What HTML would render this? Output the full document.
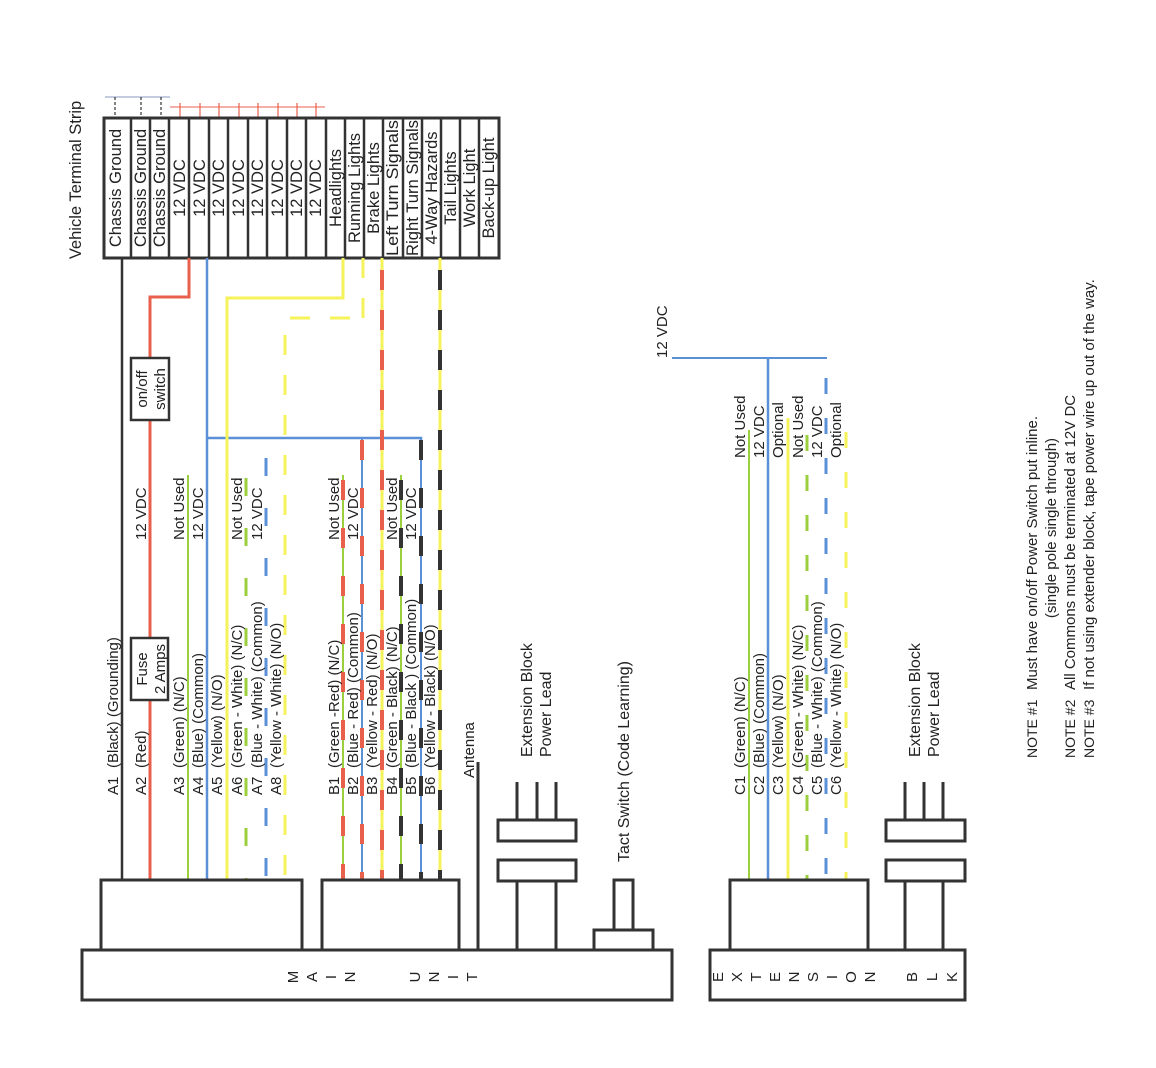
<!DOCTYPE html>
<html><head><meta charset="utf-8"><style>
html,body{margin:0;padding:0;background:#fff;}
svg{display:block;}
text{font-family:"Liberation Sans",Arial,sans-serif;fill:#222;}
</style></head><body>
<svg width="1156" height="1068" viewBox="0 0 1156 1068" xmlns="http://www.w3.org/2000/svg">
<text transform="translate(81,180) rotate(-90)" text-anchor="middle" font-size="16.5">Vehicle Terminal Strip</text>

<line x1="105" y1="97" x2="170" y2="97" stroke="#8a9ac0" stroke-width="1"/>
<g stroke="#333" stroke-width="1.2" stroke-dasharray="3,2">
<line x1="115" y1="97" x2="115" y2="117"/><line x1="141" y1="97" x2="141" y2="117"/><line x1="161" y1="97" x2="161" y2="117"/>
</g>
<line x1="170" y1="107" x2="325" y2="107" stroke="#e8604c" stroke-width="1"/>
<g stroke="#e8604c" stroke-width="1.2">
<line x1="180" y1="103" x2="180" y2="117"/><line x1="200" y1="103" x2="200" y2="117"/><line x1="219" y1="103" x2="219" y2="117"/><line x1="239" y1="103" x2="239" y2="117"/><line x1="258" y1="103" x2="258" y2="117"/><line x1="278" y1="103" x2="278" y2="117"/><line x1="297" y1="103" x2="297" y2="117"/><line x1="316" y1="103" x2="316" y2="117"/>
</g>

<rect x="104" y="118" width="395" height="140" fill="#fff" stroke="#333" stroke-width="3"/>
<g stroke="#333" stroke-width="2.5">
<line x1="131" y1="118" x2="131" y2="258"/><line x1="150" y1="118" x2="150" y2="258"/><line x1="169" y1="118" x2="169" y2="258"/><line x1="189" y1="118" x2="189" y2="258"/><line x1="209" y1="118" x2="209" y2="258"/><line x1="228" y1="118" x2="228" y2="258"/><line x1="248" y1="118" x2="248" y2="258"/><line x1="267" y1="118" x2="267" y2="258"/><line x1="287" y1="118" x2="287" y2="258"/><line x1="306" y1="118" x2="306" y2="258"/><line x1="326" y1="118" x2="326" y2="258"/><line x1="345" y1="118" x2="345" y2="258"/><line x1="364" y1="118" x2="364" y2="258"/><line x1="383" y1="118" x2="383" y2="258"/><line x1="403" y1="118" x2="403" y2="258"/><line x1="422" y1="118" x2="422" y2="258"/><line x1="441" y1="118" x2="441" y2="258"/><line x1="460" y1="118" x2="460" y2="258"/><line x1="479" y1="118" x2="479" y2="258"/>
</g>
<g font-size="16.5" text-anchor="middle">
<text transform="translate(121,188) rotate(-90)">Chassis Ground</text>
<text transform="translate(146,188) rotate(-90)">Chassis Ground</text>
<text transform="translate(165,188) rotate(-90)">Chassis Ground</text>
<text transform="translate(185,188) rotate(-90)">12 VDC</text>
<text transform="translate(205,188) rotate(-90)">12 VDC</text>
<text transform="translate(224,188) rotate(-90)">12 VDC</text>
<text transform="translate(244,188) rotate(-90)">12 VDC</text>
<text transform="translate(263,188) rotate(-90)">12 VDC</text>
<text transform="translate(283,188) rotate(-90)">12 VDC</text>
<text transform="translate(302,188) rotate(-90)">12 VDC</text>
<text transform="translate(321,188) rotate(-90)">12 VDC</text>
<text transform="translate(341,188) rotate(-90)">Headlights</text>
<text transform="translate(360,188) rotate(-90)">Running Lights</text>
<text transform="translate(379,188) rotate(-90)">Brake Lights</text>
<text transform="translate(398,188) rotate(-90)" textLength="136" lengthAdjust="spacingAndGlyphs">Left Turn Signals</text>
<text transform="translate(418,188) rotate(-90)" textLength="136" lengthAdjust="spacingAndGlyphs">Right Turn Signals</text>
<text transform="translate(437,188) rotate(-90)">4-Way Hazards</text>
<text transform="translate(456,188) rotate(-90)">Tail Lights</text>
<text transform="translate(475,188) rotate(-90)">Work Light</text>
<text transform="translate(494,188) rotate(-90)">Back-up Light</text>
</g>

<line x1="122" y1="258" x2="122" y2="880" stroke="#333" stroke-width="2.5"/>
<polyline points="189,258 189,297 150,297 150,880" fill="none" stroke="#e8604c" stroke-width="3"/>
<line x1="207" y1="258" x2="207" y2="880" stroke="#5b8fd6" stroke-width="2.5"/>
<polyline points="207,438 421,438 421,450" fill="none" stroke="#5b8fd6" stroke-width="2.5"/>
<polyline points="343,258 343,298 227,298 227,880" fill="none" stroke="#f5f25a" stroke-width="3"/>
<g stroke="#f5f25a" stroke-width="3" stroke-dasharray="20,20" fill="none">
<line x1="363" y1="258" x2="363" y2="318"/>
<line x1="350" y1="318" x2="285" y2="318"/>
<line x1="285" y1="335" x2="285" y2="880"/>
</g>
<line x1="188" y1="475" x2="188" y2="880" stroke="#9ccf3c" stroke-width="2"/>
<line x1="246" y1="478" x2="246" y2="880" stroke="#9ccf3c" stroke-width="3" stroke-dasharray="18,32"/>
<line x1="266" y1="458" x2="266" y2="880" stroke="#5b8fd6" stroke-width="3" stroke-dasharray="18,32"/>

<line x1="343" y1="475" x2="343" y2="880" stroke="#9ccf3c" stroke-width="2"/>
<line x1="343" y1="480" x2="343" y2="880" stroke="#e8604c" stroke-width="4" stroke-dasharray="20,28"/>
<line x1="362" y1="438" x2="362" y2="880" stroke="#5b8fd6" stroke-width="2"/>
<line x1="362" y1="440" x2="362" y2="880" stroke="#e8604c" stroke-width="4" stroke-dasharray="20,28"/>
<line x1="382" y1="258" x2="382" y2="880" stroke="#f5f25a" stroke-width="3"/>
<line x1="382" y1="270" x2="382" y2="880" stroke="#e8604c" stroke-width="4" stroke-dasharray="20,20"/>
<line x1="401" y1="475" x2="401" y2="880" stroke="#9ccf3c" stroke-width="2"/>
<line x1="401" y1="480" x2="401" y2="880" stroke="#333" stroke-width="4" stroke-dasharray="20,28"/>
<line x1="421" y1="438" x2="421" y2="880" stroke="#5b8fd6" stroke-width="2"/>
<line x1="421" y1="440" x2="421" y2="880" stroke="#333" stroke-width="4" stroke-dasharray="20,28"/>
<line x1="440" y1="258" x2="440" y2="880" stroke="#f5f25a" stroke-width="3"/>
<line x1="440" y1="270" x2="440" y2="880" stroke="#333" stroke-width="4" stroke-dasharray="20,20"/>

<rect x="131" y="358" width="38" height="62" fill="#fff" stroke="#333" stroke-width="2.5"/>
<text transform="translate(147,389) rotate(-90)" text-anchor="middle" font-size="15">on/off</text>
<text transform="translate(165,389) rotate(-90)" text-anchor="middle" font-size="15">switch</text>
<rect x="131" y="638" width="37" height="62" fill="#fff" stroke="#333" stroke-width="2.5"/>
<text transform="translate(147,669) rotate(-90)" text-anchor="middle" font-size="15">Fuse</text>
<text transform="translate(165,669) rotate(-90)" text-anchor="middle" font-size="15">2 Amps</text>

<g font-size="15">
<text transform="translate(146,540) rotate(-90)">12 VDC</text>
<text transform="translate(184,540) rotate(-90)">Not Used</text>
<text transform="translate(203,540) rotate(-90)">12 VDC</text>
<text transform="translate(242,540) rotate(-90)">Not Used</text>
<text transform="translate(262,540) rotate(-90)">12 VDC</text>
<text transform="translate(118,795) rotate(-90)">A1</text><text transform="translate(118,768) rotate(-90)">(Black) (Grounding)</text>
<text transform="translate(146,795) rotate(-90)">A2</text><text transform="translate(146,768) rotate(-90)">(Red)</text>
<text transform="translate(184,795) rotate(-90)">A3</text><text transform="translate(184,768) rotate(-90)">(Green) (N/C)</text>
<text transform="translate(203,795) rotate(-90)">A4</text><text transform="translate(203,768) rotate(-90)">(Blue) (Common)</text>
<text transform="translate(222,795) rotate(-90)">A5</text><text transform="translate(222,768) rotate(-90)">(Yellow) (N/O)</text>
<text transform="translate(242,795) rotate(-90)">A6</text><text transform="translate(242,768) rotate(-90)">(Green - White) (N/C)</text>
<text transform="translate(262,795) rotate(-90)">A7</text><text transform="translate(262,768) rotate(-90)">(Blue - White) (Common)</text>
<text transform="translate(281,795) rotate(-90)">A8</text><text transform="translate(281,768) rotate(-90)">(Yellow - White) (N/O)</text>
<text transform="translate(339,540) rotate(-90)">Not Used</text>
<text transform="translate(358,540) rotate(-90)">12 VDC</text>
<text transform="translate(397,540) rotate(-90)">Not Used</text>
<text transform="translate(416,540) rotate(-90)">12 VDC</text>
<text transform="translate(339,795) rotate(-90)">B1</text><text transform="translate(339,768) rotate(-90)">(Green -Red) (N/C)</text>
<text transform="translate(358,795) rotate(-90)">B2</text><text transform="translate(358,768) rotate(-90)">(Blue - Red) (Common)</text>
<text transform="translate(377,795) rotate(-90)">B3</text><text transform="translate(377,768) rotate(-90)">(Yellow - Red) (N/O)</text>
<text transform="translate(397,795) rotate(-90)">B4</text><text transform="translate(397,768) rotate(-90)">(Green - Black) (N/C)</text>
<text transform="translate(416,795) rotate(-90)">B5</text><text transform="translate(416,768) rotate(-90)">(Blue - Black ) (Common)</text>
<text transform="translate(435,795) rotate(-90)">B6</text><text transform="translate(435,768) rotate(-90)">(Yellow - Black) (N/O)</text>
<text transform="translate(474,778) rotate(-90)">Antenna</text>
</g>
<g font-size="16">
<text transform="translate(532,757) rotate(-90)">Extension Block</text>
<text transform="translate(551,757) rotate(-90)">Power Lead</text>
<text transform="translate(629,862) rotate(-90)">Tact Switch (Code Learning)</text>
</g>

<g fill="#fff" stroke="#333" stroke-width="3">
<rect x="101" y="880" width="201" height="70"/>
<rect x="322" y="880" width="137" height="70"/>
<rect x="498" y="820" width="78" height="21"/>
<rect x="498" y="860" width="78" height="21"/>
<rect x="594" y="930" width="59" height="20"/>
<rect x="614" y="880" width="19" height="50"/>
<rect x="82" y="950" width="590" height="50"/>
</g>
<g stroke="#333" stroke-width="3">
<line x1="478" y1="762" x2="478" y2="950"/>
<line x1="517" y1="782" x2="517" y2="820"/><line x1="537" y1="782" x2="537" y2="820"/><line x1="556" y1="782" x2="556" y2="820"/>
<line x1="517" y1="881" x2="517" y2="950"/><line x1="556" y1="881" x2="556" y2="950"/>
</g>
<g font-size="15" text-anchor="middle">
<text transform="translate(298,977) rotate(-90)">M</text>
<text transform="translate(317,977) rotate(-90)">A</text>
<text transform="translate(336,977) rotate(-90)">I</text>
<text transform="translate(355,977) rotate(-90)">N</text>
<text transform="translate(420,977) rotate(-90)">U</text>
<text transform="translate(439,977) rotate(-90)">N</text>
<text transform="translate(458,977) rotate(-90)">I</text>
<text transform="translate(477,977) rotate(-90)">T</text>
</g>

<text transform="translate(667,358) rotate(-90)" font-size="15">12 VDC</text>
<line x1="672" y1="358" x2="827" y2="358" stroke="#5b8fd6" stroke-width="2"/>
<line x1="768" y1="358" x2="768" y2="880" stroke="#5b8fd6" stroke-width="2.5"/>
<line x1="749" y1="430" x2="749" y2="880" stroke="#9ccf3c" stroke-width="2"/>
<line x1="788" y1="418" x2="788" y2="880" stroke="#f5f25a" stroke-width="3"/>
<line x1="807" y1="435" x2="807" y2="880" stroke="#9ccf3c" stroke-width="3" stroke-dasharray="16,24"/>
<line x1="826" y1="378" x2="826" y2="880" stroke="#5b8fd6" stroke-width="3" stroke-dasharray="16,24"/>
<line x1="846" y1="432" x2="846" y2="880" stroke="#f5f25a" stroke-width="3" stroke-dasharray="16,24"/>
<g font-size="15">
<text transform="translate(745,458) rotate(-90)">Not Used</text>
<text transform="translate(764,458) rotate(-90)">12 VDC</text>
<text transform="translate(783,458) rotate(-90)">Optional</text>
<text transform="translate(803,458) rotate(-90)">Not Used</text>
<text transform="translate(822,458) rotate(-90)">12 VDC</text>
<text transform="translate(841,458) rotate(-90)">Optional</text>
<text transform="translate(745,795) rotate(-90)">C1</text><text transform="translate(745,768) rotate(-90)">(Green) (N/C)</text>
<text transform="translate(764,795) rotate(-90)">C2</text><text transform="translate(764,768) rotate(-90)">(Blue) (Common)</text>
<text transform="translate(783,795) rotate(-90)">C3</text><text transform="translate(783,768) rotate(-90)">(Yellow) (N/O)</text>
<text transform="translate(803,795) rotate(-90)">C4</text><text transform="translate(803,768) rotate(-90)">(Green - White) (N/C)</text>
<text transform="translate(822,795) rotate(-90)">C5</text><text transform="translate(822,768) rotate(-90)">(Blue - White) (Common)</text>
<text transform="translate(841,795) rotate(-90)">C6</text><text transform="translate(841,768) rotate(-90)">(Yellow - White) (N/O)</text>
</g>
<g font-size="16">
<text transform="translate(920,757) rotate(-90)">Extension Block</text>
<text transform="translate(939,757) rotate(-90)">Power Lead</text>
</g>
<g fill="#fff" stroke="#333" stroke-width="3">
<rect x="730" y="880" width="138" height="70"/>
<rect x="886" y="820" width="79" height="21"/>
<rect x="886" y="860" width="79" height="21"/>
<rect x="710" y="950" width="255" height="50"/>
</g>
<g stroke="#333" stroke-width="3">
<line x1="905" y1="782" x2="905" y2="820"/><line x1="924" y1="782" x2="924" y2="820"/><line x1="943" y1="782" x2="943" y2="820"/>
<line x1="905" y1="881" x2="905" y2="950"/><line x1="943" y1="881" x2="943" y2="950"/>
</g>
<g font-size="15" text-anchor="middle">
<text transform="translate(723,977) rotate(-90)">E</text>
<text transform="translate(742,977) rotate(-90)">X</text>
<text transform="translate(761,977) rotate(-90)">T</text>
<text transform="translate(780,977) rotate(-90)">E</text>
<text transform="translate(799,977) rotate(-90)">N</text>
<text transform="translate(818,977) rotate(-90)">S</text>
<text transform="translate(837,977) rotate(-90)">I</text>
<text transform="translate(856,977) rotate(-90)">O</text>
<text transform="translate(875,977) rotate(-90)">N</text>
<text transform="translate(917,977) rotate(-90)">B</text>
<text transform="translate(937,977) rotate(-90)">L</text>
<text transform="translate(957,977) rotate(-90)">K</text>
</g>

<g font-size="14">
<text transform="translate(1037,758) rotate(-90)">NOTE #1</text>
<text transform="translate(1075,758) rotate(-90)">NOTE #2</text>
<text transform="translate(1094,758) rotate(-90)">NOTE #3</text>
</g>
<g font-size="15">
<text transform="translate(1037,690) rotate(-90)">Must have on/off Power Switch put inline.</text>
<text transform="translate(1056,528) rotate(-90)" text-anchor="middle">(single pole single through)</text>
<text transform="translate(1075,690) rotate(-90)">All Commons must be terminated at 12V DC</text>
<text transform="translate(1094,690) rotate(-90)">If not using extender block, tape power wire up out of the way.</text>
</g>
</svg>
</body></html>
